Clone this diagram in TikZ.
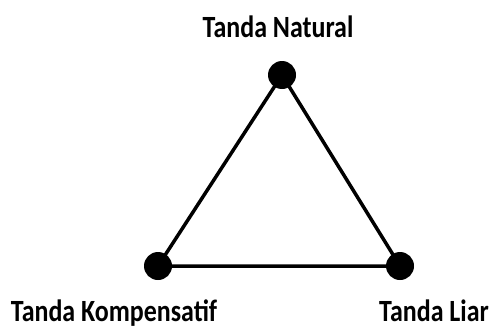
\documentclass[tikz,border=0pt]{standalone}
\usepackage{fontspec}
\setmainfont{Carlito}
\usetikzlibrary{positioning}
\definecolor{ink}{RGB}{0,0,0}

\begin{document}
\begin{tikzpicture}[x=1bp, y=1bp, font=\bfseries\fontsize{31}{36}\selectfont]
        \useasboundingbox (0,0) rectangle (492,329);
        \tikzset{
          titik/.style={circle, fill=ink, inner sep=0pt, minimum size=28bp},
          label teks/.style={anchor=base, text=ink, xscale=0.84, transform shape}
        }

        % titik sudut
        \node[titik] (natural) at (282, 254) {};
        \node[titik] (kompensatif) at (158, 63) {};
        \node[titik] (liar) at (400, 63) {};

        % sisi segitiga
        \draw[ink, line width=3.5bp] (natural.center) -- (kompensatif.center) -- (liar.center) -- (natural.center);

        % label
        \node[label teks] (lnatural) at (278, 292) {Tanda Natural};
        \node[label teks] (lkompensatif) at (114, 7.5) {Tanda Kompensatif};
        \node[label teks] (lliar) at (434, 7.5) {Tanda Liar};
      \end{tikzpicture}
\end{document}
